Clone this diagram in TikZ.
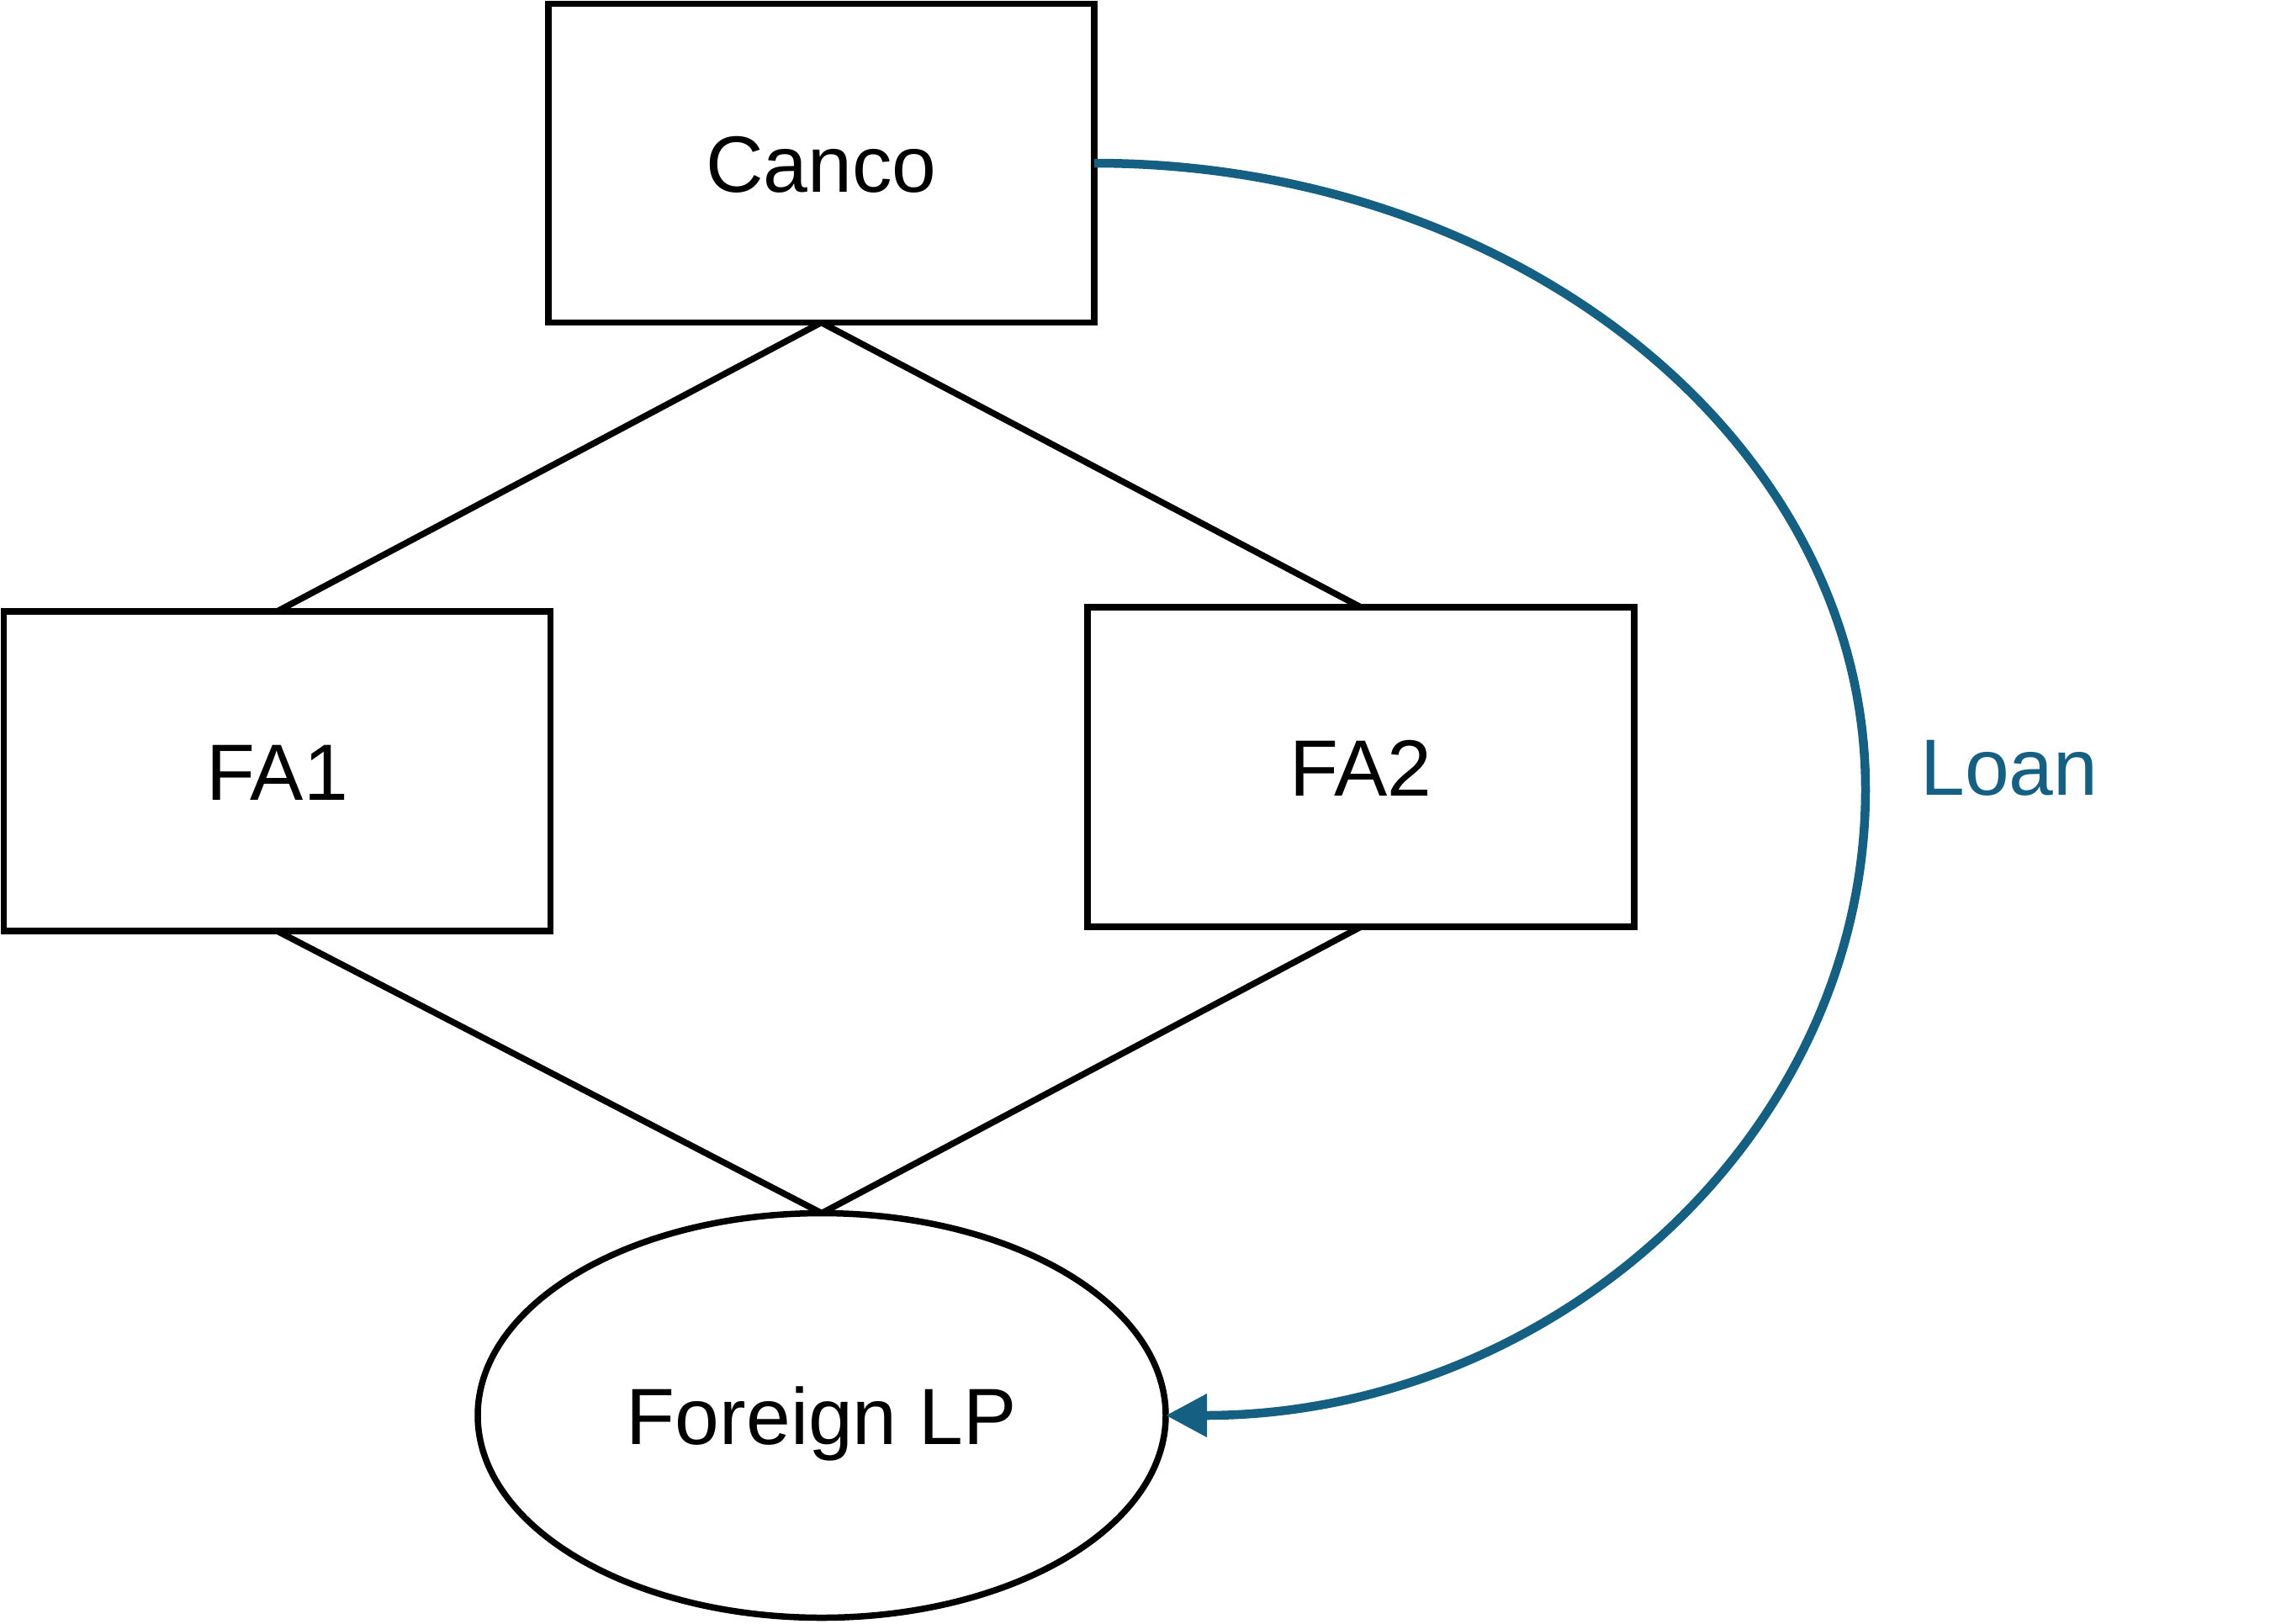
\documentclass[tikz,border=0pt]{standalone}
\usepackage{fontspec}
\setmainfont{Liberation Sans}
\usetikzlibrary{arrows.meta,shapes.geometric}
\definecolor{loanblue}{RGB}{21,96,130}
\begin{document}
\begin{tikzpicture}[
  txt/.style={font=\fontsize{27pt}{32pt}\selectfont},
  box/.style={txt, draw=black, line width=0.075cm, rectangle, inner sep=0pt, outer sep=0pt,
    minimum width=6.50cm, minimum height=3.80cm, text height=0.68cm, text depth=0pt},
  oval/.style={txt, draw=black, line width=0.075cm, ellipse, inner sep=0pt, outer sep=0pt,
    minimum width=8.18cm, minimum height=4.81cm, text height=0.68cm, text depth=0pt},
  link/.style={draw=black, line width=0.075cm},
  loan/.style={draw=loanblue, line width=0.105cm, -{Triangle[length=0.49cm,width=0.49cm]}},
  lbl/.style={txt, text=loanblue, inner sep=0pt}
]
\useasboundingbox (0,0) rectangle (27.12,-19.30);

\node[box, minimum width=6.49cm, minimum height=3.79cm] (canco) at (9.765,-1.94) {Canco};
\node[box] (fa1) at (3.295,-9.17) {FA1};
\node[box] (fa2) at (16.18,-9.12) {FA2};
\node[oval] (flp) at (9.77,-16.83) {Foreign LP};
\coordinate (loanR) at (22.18,-9.385);
\node[lbl, anchor=base] (loantxt) at (23.89,-9.45) {Loan};

\draw[link] (canco.south) -- (fa1.north);
\draw[link] (canco.south) -- (fa2.north);
\draw[link] (fa1.south) -- (flp.north);
\draw[link] (fa2.south) -- (flp.north);

\draw[loan] (canco.east) .. controls +(5.06,0) and +(0,4.11) .. (loanR)
  .. controls +(0,-4.11) and +(4.60,0) .. (flp.east);
\end{tikzpicture}
\end{document}
